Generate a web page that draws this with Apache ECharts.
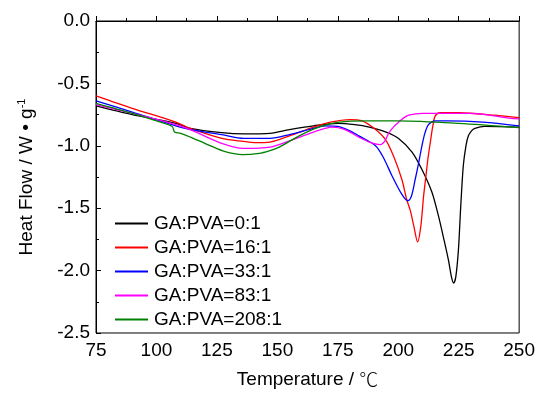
<!DOCTYPE html>
<html>
<head>
<meta charset="utf-8">
<script src="https://cdn.jsdelivr.net/npm/echarts@6/dist/echarts.min.js"></script>
<style>
  html, body { margin: 0; padding: 0; background: #fff; }
  #chart { width: 538px; height: 394px; }
</style>
</head>
<body>
<div id="chart"></div>
<script>
const seriesNames = ["GA:PVA=0:1", "GA:PVA=16:1", "GA:PVA=33:1", "GA:PVA=83:1", "GA:PVA=208:1"];
const seriesColors = ["#000000", "#ff0000", "#0000ff", "#ff00ff", "#008000"];
const xTicks = [75, 100, 125, 150, 175, 200, 225, 250];
const yTicks = [0, -0.5, -1.0, -1.5, -2.0, -2.5];

// [temperature, heat flow]
const ratio0_1 = [
  [75, -0.68], [90, -0.75], [108, -0.82], [114, -0.86], [127, -0.895], [136, -0.905],
  [147, -0.90], [155, -0.87], [165, -0.84], [175, -0.82], [182, -0.83], [188, -0.85],
  [195, -0.89], [200, -0.94], [205.7, -1.05], [209.8, -1.19], [213.9, -1.37],
  [216.6, -1.56], [219, -1.76], [220.8, -1.92], [222, -2.05], [222.9, -2.10],
  [223.8, -2.05], [224.9, -1.83], [225.8, -1.50], [226.9, -1.16], [228, -1.00],
  [229, -0.92], [230.3, -0.88], [231.7, -0.86], [235.8, -0.845], [250, -0.85]
];
const ratio16_1 = [
  [75, -0.60], [90, -0.70], [108, -0.81], [114, -0.86], [127, -0.94], [136, -0.965],
  [141, -0.975], [147, -0.97], [155, -0.92], [165, -0.85], [172, -0.81], [180, -0.79],
  [185, -0.80], [190, -0.86], [194.7, -0.95], [198, -1.08], [201.5, -1.27],
  [203.5, -1.43], [205, -1.52], [206.5, -1.65], [208, -1.77], [209.3, -1.65],
  [210.5, -1.40], [211.4, -1.25], [212.3, -1.10], [213.2, -0.98], [214.3, -0.84],
  [215.3, -0.76], [217.3, -0.735], [225, -0.735], [240, -0.755], [250, -0.775]
];
const ratio33_1 = [
  [75, -0.64], [90, -0.73], [108, -0.84], [114, -0.87], [127, -0.91], [136, -0.94],
  [147, -0.94], [155, -0.91], [163, -0.87], [170, -0.84], [175, -0.845], [180, -0.88],
  [183.7, -0.92], [190.6, -1.00], [194, -1.10], [197.4, -1.24], [201.5, -1.39],
  [204, -1.44], [205.5, -1.40], [207, -1.27], [208.5, -1.13], [209.8, -1.00],
  [211, -0.90], [212.5, -0.83], [215.3, -0.80], [220, -0.80], [235, -0.81], [250, -0.84]
];
const ratio83_1 = [
  [75, -0.67], [90, -0.74], [108, -0.83], [114, -0.87], [127, -0.98], [136, -1.02],
  [147, -1.01], [155, -0.96], [165, -0.89], [172.6, -0.85], [178, -0.87], [183.7, -0.93],
  [188, -0.97], [192.6, -0.99], [194.5, -0.96], [196, -0.90], [198, -0.85],
  [200.2, -0.81], [202, -0.78], [204.3, -0.755], [210, -0.74], [230, -0.74],
  [246.7, -0.78], [250, -0.785]
];
const ratio208_1 = [
  [75, -0.66], [90, -0.74], [100, -0.80], [106.5, -0.845], [107.5, -0.89], [110, -0.90],
  [114, -0.93], [120, -0.98], [127.4, -1.04], [135.6, -1.07], [142.5, -1.06],
  [146.6, -1.04], [150.8, -1.01], [159, -0.92], [167.2, -0.85], [175.5, -0.81],
  [187.8, -0.80], [200, -0.80], [225, -0.82], [250, -0.855]
];
const seriesData = [ratio0_1, ratio16_1, ratio33_1, ratio83_1, ratio208_1];

const font = "Arial, 'Liberation Sans', sans-serif";
const chart = echarts.init(document.getElementById("chart"));

const option = {
  animation: false,
  grid: {
    left: 96, right: 17, top: 21, bottom: 60,
    show: true, borderColor: "#000", borderWidth: 1
  },
  legend: {
    orient: "vertical",
    left: 110,
    top: 209,
    itemWidth: 33,
    itemHeight: 2,
    itemGap: 5,
    icon: "rect",
    textStyle: { fontFamily: font, fontSize: 19, color: "#000", padding: [0, 0, 0, 1] },
    data: seriesNames
  },
  xAxis: {
    type: "value",
    min: xTicks[0],
    max: xTicks[xTicks.length - 1],
    interval: 25,
    name: "Temperature / {deg|\u2103}",
    nameLocation: "middle",
    nameGap: 37,
    nameTextStyle: {
      fontFamily: font, fontSize: 19, color: "#000",
      rich: { deg: { fontFamily: "'Noto Sans CJK SC'", fontSize: 19, fontWeight: 300, color: "#000" } }
    },
    axisLine: { lineStyle: { color: "#000", width: 1 } },
    axisTick: { inside: true, length: 5, lineStyle: { color: "#000" } },
    minorTick: { show: true, splitNumber: 2, length: 3, lineStyle: { color: "#000" } },
    splitLine: { show: false },
    axisLabel: { fontFamily: font, fontSize: 19, color: "#000", margin: 8 }
  },
  yAxis: {
    type: "value",
    min: yTicks[yTicks.length - 1],
    max: yTicks[0],
    interval: 0.5,
    name: "Heat Flow / W \u2022 g{sup|-1}",
    nameLocation: "middle",
    nameGap: 59,
    nameTextStyle: {
      fontFamily: font, fontSize: 19, color: "#000",
      rich: { sup: { fontFamily: font, fontSize: 11, color: "#000", verticalAlign: "top", padding: [0, 0, 10, 0] } }
    },
    axisLine: { show: true, lineStyle: { color: "#000", width: 1 } },
    axisTick: { show: true, inside: true, length: 5, lineStyle: { color: "#000" } },
    minorTick: { show: true, splitNumber: 2, length: 3, lineStyle: { color: "#000" } },
    splitLine: { show: false },
    axisLabel: {
      fontFamily: font, fontSize: 19, color: "#000", margin: 6,
      formatter: v => v.toFixed(1)
    }
  },
  series: seriesNames.map((name, i) => ({
    name: name,
    type: "line",
    data: seriesData[i],
    showSymbol: false,
    smooth: 0.3,
    color: seriesColors[i],
    lineStyle: { width: 1.3, color: seriesColors[i] }
  }))
};

chart.setOption(option);
</script>
</body>
</html>
